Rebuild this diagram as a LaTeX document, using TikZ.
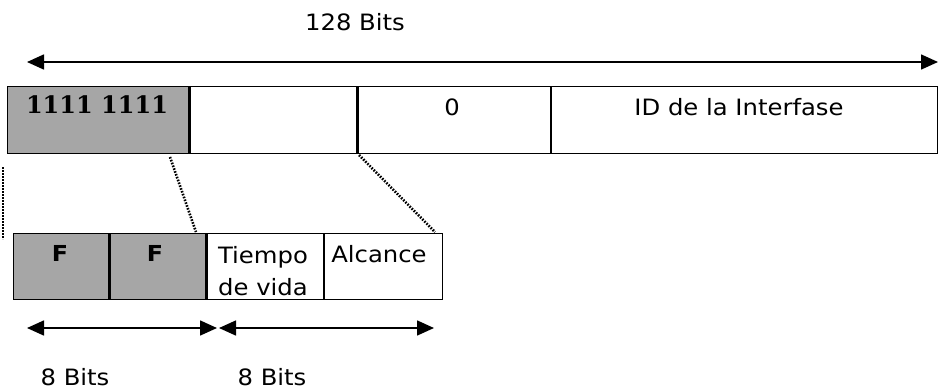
\documentclass[tikz,border=0pt]{standalone}
\usepackage{fontspec}
\setmainfont{DejaVu Sans}[FakeStretch=1.08]
\newfontfamily\digitfont{DejaVu Serif}
\usetikzlibrary{arrows.meta}
\definecolor{stipple}{HTML}{A6A6A6}

\begin{document}
\begin{tikzpicture}[x=1pt,y=-1pt,font=\fontsize{22.5}{32}\selectfont,
  fld/.style={draw,line width=1.3pt,inner sep=0pt,anchor=north west},
  span/.style={line width=1.6pt,{Triangle[length=17pt,width=15pt]}-{Triangle[length=17pt,width=15pt]}},
  zoomline/.style={line width=2.6pt,dash pattern=on 1.6pt off 1.4pt},
  lbl/.style={anchor=base,inner sep=0pt}]
  \useasboundingbox (0,0) rectangle (941,389);
  % address, 128 bits
  \node[fld,fill=stipple,minimum width=181pt,minimum height=67pt] (pre) at (7,86) {};
  \node[fld,minimum width=167pt,minimum height=67pt] (flg) at (pre.north east) {};
  \node[fld,minimum width=192pt,minimum height=67pt] (zero) at (flg.north east) {};
  \node[fld,minimum width=386pt,minimum height=67pt] (iid) at (zero.north east) {};
  \node[lbl,font=\digitfont\bfseries\fontsize{24}{26}\selectfont] (pretxt) at (97,113) {1111 1111};
  \node[lbl] (zerotxt) at (452,115) {0};
  \node[lbl] (iidtxt) at (739,115) {ID de la Interfase};
  % width arrow
  \coordinate (wl) at (27,62);
  \coordinate (wr) at (938,62);
  \draw[span] (wl) -- (wr);
  \node[lbl] (wtxt) at (355,30) {128 Bits};
  % first 16 bits
  \node[fld,fill=stipple,minimum width=95pt,minimum height=66pt] (fa) at (13,233) {};
  \node[fld,fill=stipple,minimum width=96pt,minimum height=66pt] (fb) at (fa.north east) {};
  \node[fld,minimum width=116pt,minimum height=66pt] (life) at (fb.north east) {};
  \node[fld,minimum width=118pt,minimum height=66pt] (scope) at (life.north east) {};
  \node[lbl,font=\bfseries\fontsize{22}{31}\selectfont] (fatxt) at (60,261) {F};
  \node[lbl,font=\bfseries\fontsize{22}{31}\selectfont] (fbtxt) at (155,261) {F};
  \node[lbl,align=center] (lifetxt) at (263,295) {Tiempo\\de vida};
  \node[lbl] (scopetxt) at (379,262) {Alcance};
  % zoom lines
  \coordinate (za) at (3,167);
  \coordinate (zb) at (3,239);
  \coordinate (zc) at (170,157);
  \coordinate (zd) at (196,232);
  \coordinate (ze) at (359,155);
  \coordinate (zf) at (435,232);
  \draw[zoomline] (za) -- (zb);
  \draw[zoomline] (zc) -- (zd);
  \draw[zoomline] (ze) -- (zf);
  % 8 bit arrows
  \coordinate (ba) at (27,328);
  \coordinate (bb) at (217,328);
  \coordinate (bc) at (219,328);
  \coordinate (bd) at (434,328);
  \draw[span] (ba) -- (bb);
  \draw[span] (bc) -- (bd);
  \node[lbl] (batxt) at (75,385) {8 Bits};
  \node[lbl] (bctxt) at (272,385) {8 Bits};
\end{tikzpicture}
\end{document}
